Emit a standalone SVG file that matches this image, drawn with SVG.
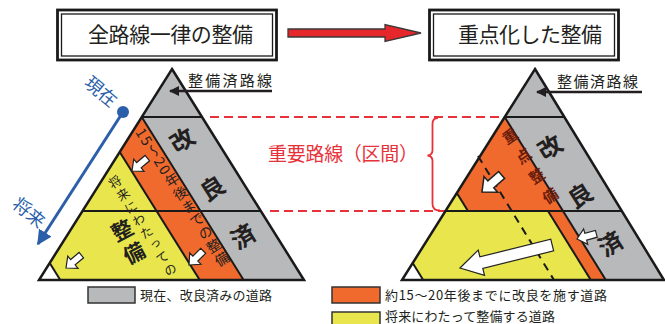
<svg xmlns="http://www.w3.org/2000/svg" width="665" height="324" viewBox="0 0 665 324">
<style>
text{font-family:"Noto Sans CJK JP","Noto Sans",sans-serif;fill:#231f20}
.ttl{font-size:21px}
.lbl{font-size:15px}
.leg{font-size:13px}
.vt{writing-mode:vertical-rl}
.big{font-size:24px;font-weight:bold}
.gray{fill:#b8b9bb}
.org{fill:#f06a2e}
.yel{fill:#e8e64c}
.wht{fill:#fff}
.edge{fill:none;stroke:#1a1a1a;stroke-width:2;stroke-linejoin:round}
.frame{fill:none;stroke:#1a1a1a;stroke-width:2.5;stroke-linejoin:miter}
.warr{fill:#fff;stroke:#222;stroke-width:1.2;stroke-linejoin:miter}
.rdash{fill:none;stroke:#e8323a;stroke-width:2;stroke-dasharray:9 5}
.blue{fill:#2c5faa}
</style>
<defs>
<marker id="blk" viewBox="0 0 10 10" refX="9" refY="5" markerWidth="4" markerHeight="4" orient="auto-start-reverse" markerUnits="strokeWidth">
<path d="M0,0 L10,5 L0,10 Z" fill="#231f20"/>
</marker>
<marker id="blu" viewBox="0 0 10 10" refX="9" refY="5" markerWidth="5" markerHeight="5" orient="auto" markerUnits="strokeWidth">
<path d="M0,0 L10,5 L0,10 Z" fill="#2c5faa"/>
</marker>
<path id="sarr" d="M0,0 L-9,-8 L-9,-3.5 L-20,-3.5 L-20,3.5 L-9,3.5 L-9,8 Z"/>
</defs>

<!-- Title boxes -->
<g id="title-left">
<rect x="57.5" y="10" width="219" height="50" fill="#fff" stroke="#1a1a1a" stroke-width="2.8"/>
<rect x="61.5" y="14" width="211" height="42" fill="none" stroke="#1a1a1a" stroke-width="1.3"/>
<text class="ttl" x="88" y="41.5" textLength="165" lengthAdjust="spacing">全路線一律の整備</text>
</g>
<g id="title-right">
<rect x="429.5" y="10" width="189" height="50" fill="#fff" stroke="#1a1a1a" stroke-width="2.8"/>
<rect x="433.5" y="14" width="181" height="42" fill="none" stroke="#1a1a1a" stroke-width="1.3"/>
<text class="ttl" x="458" y="41.5" textLength="144" lengthAdjust="spacing">重点化した整備</text>
</g>

<g id="connectors">
<path d="M288,29 L385,29 L385,24.5 L421,33 L385,41.5 L385,37 L288,37 Z" fill="#e5262a" stroke="#3a3a3a" stroke-width="1.3" stroke-linejoin="miter"/>
<line class="rdash" x1="210" y1="117" x2="505" y2="117"/>
<line class="rdash" x1="270" y1="211" x2="458" y2="211"/>
<path d="M438,118 Q432.5,118 432.5,124 L432.5,150 Q432.5,155 427.5,155.5 Q432.5,156 432.5,161 L432.5,204 Q432.5,210.5 440,210.5" fill="none" stroke="#e8323a" stroke-width="1.8"/>
<circle cx="123" cy="112" r="6" class="blue"/>
<line x1="123" y1="112" x2="38" y2="244" stroke="#2c5faa" stroke-width="3" marker-end="url(#blu)"/>
</g>

<!-- Left triangle -->
<g id="left-triangle">
<polygon class="gray" points="172,69 304,280 243.6,280 141.7,117"/>
<polygon class="org" points="141.7,117 243.6,280 199.7,280 119.7,152"/>
<polygon class="yel" points="119.7,152 199.7,280 60.3,280 49.7,263"/>
<polygon class="wht" points="49.7,263 60.3,280 39,280"/>
<line class="edge" x1="141.7" y1="117" x2="243.6" y2="280"/>
<line class="edge" x1="119.7" y1="152" x2="199.7" y2="280"/>
<line class="edge" x1="49.7" y1="263" x2="60.3" y2="280"/>
<line class="edge" x1="141.7" y1="117" x2="202" y2="117"/>
<line class="edge" x1="82.5" y1="211" x2="260.8" y2="211"/>
<polygon class="frame" points="172,69 304,280 39,280"/>
<use href="#sarr" class="warr" transform="translate(132,171) rotate(140)"/>
<use href="#sarr" class="warr" transform="translate(189,265) rotate(135)"/>
<use href="#sarr" class="warr" transform="translate(66,268) rotate(140)"/>
<text class="vt big" transform="translate(175.6,129.8) rotate(-32.2)" x="0" y="0" letter-spacing="33">改良済</text>
<text class="vt" transform="translate(140,129) rotate(-32.2)" x="0" y="0" font-size="14" letter-spacing="1.6">15〜20年後までの整備</text>
<text class="vt" transform="translate(111.7,176.7) rotate(-32.2)" x="0" y="0" font-size="12.5" letter-spacing="2.3">将来にわたっての</text>
<text class="vt" transform="translate(117,220.7) rotate(-28)" x="0" y="0" font-size="21" font-weight="bold" letter-spacing="5">整備</text>
</g>
<g id="left-label">
<line x1="272" y1="91" x2="170" y2="91" stroke="#231f20" stroke-width="2.5" marker-end="url(#blk)"/>
<text class="lbl" x="188" y="86" textLength="84" lengthAdjust="spacing">整備済路線</text>
</g>

<!-- Right triangle -->
<g id="right-triangle">
<polygon class="gray" points="535,69 664,280 605.8,280 504.7,117"/>
<polygon class="org" points="504.7,117 563,211 468,211 456.8,193"/>
<polygon class="org" points="548,211 563,211 605.8,280 590.8,280"/>
<polygon class="yel" points="456.8,193 468,211 445.5,211"/>
<polygon class="yel" points="445.5,211 548,211 590.8,280 423.2,280 412.7,263"/>
<polygon class="wht" points="412.7,263 423.2,280 402,280"/>
<line x1="478" y1="156" x2="554" y2="280" stroke="#1a1a1a" stroke-width="2" stroke-dasharray="8 6"/>
<line class="edge" x1="504.7" y1="117" x2="605.8" y2="280"/>
<line class="edge" x1="548" y1="211" x2="590.8" y2="280"/>
<line class="edge" x1="456.8" y1="193" x2="468" y2="211"/>
<line class="edge" x1="412.7" y1="263" x2="423.2" y2="280"/>
<line class="edge" x1="504.7" y1="117" x2="564.3" y2="117"/>
<line class="edge" x1="445.5" y1="211" x2="621.8" y2="211"/>
<polygon class="frame" points="535,69 664,280 402,280"/>
<use href="#sarr" class="warr" transform="translate(482,192) rotate(139) scale(1.3)"/>
<use href="#sarr" class="warr" transform="translate(577,239) rotate(165)"/>
<path class="warr" transform="translate(460,268) rotate(-14)" d="M0,0 L22,-13 L22,-6 L95,-6 L95,6 L22,6 L22,13 Z"/>
<text class="vt big" transform="translate(543.6,136.8) rotate(-32)" x="0" y="0" letter-spacing="33">改良済</text>
<text class="vt" transform="translate(505.8,129.8) rotate(-34)" x="0" y="0" font-size="15" font-weight="bold" letter-spacing="9" style="fill:#6b1d0c">重点整備</text>
</g>
<g id="right-label">
<line x1="642" y1="92" x2="537" y2="92" stroke="#231f20" stroke-width="2.5" marker-end="url(#blk)"/>
<text class="lbl" x="557" y="87" textLength="81" lengthAdjust="spacing">整備済路線</text>
</g>

<g id="important-label">
<text x="268" y="161" font-size="19" textLength="150" lengthAdjust="spacing" style="fill:#e8323a">重要路線（区間）</text>
</g>

<g id="time-labels">
<text transform="translate(83,85) rotate(40)" font-size="18" style="fill:#2c5faa">現在</text>
<text transform="translate(11,206) rotate(40)" font-size="18" style="fill:#2c5faa">将来</text>
</g>

<!-- Legend -->
<g id="legend-gray">
<rect x="88" y="287" width="47" height="16" fill="#b8b9bb" stroke="#333" stroke-width="1.5"/>
<text class="leg" x="140" y="300" textLength="132" lengthAdjust="spacing">現在、改良済みの道路</text>
</g>
<g id="legend-orange">
<rect x="332" y="287" width="48" height="16" fill="#f06a2e" stroke="#333" stroke-width="1.5"/>
<text class="leg" x="385" y="300" textLength="222" lengthAdjust="spacing">約15〜20年後までに改良を施す道路</text>
</g>
<g id="legend-yellow">
<rect x="332" y="312" width="48" height="16" fill="#e8e64c" stroke="#333" stroke-width="1.5"/>
<text class="leg" x="385" y="321" font-size="12.5" textLength="170" lengthAdjust="spacing">将来にわたって整備する道路</text>
</g>
</svg>
